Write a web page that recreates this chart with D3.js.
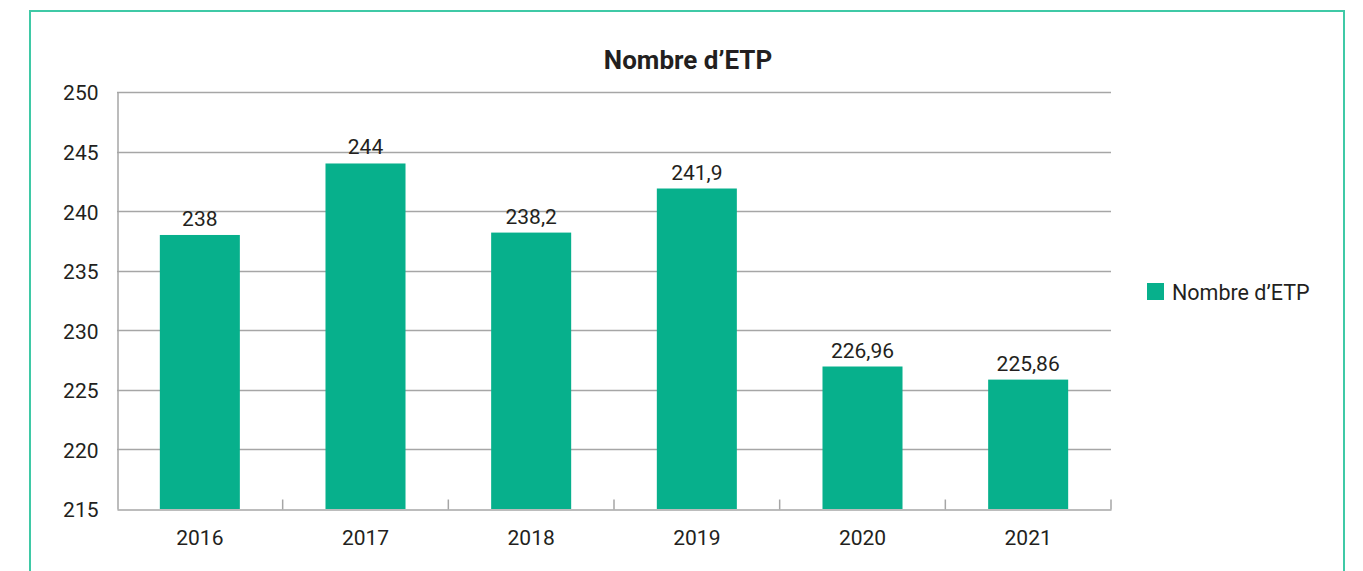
<!DOCTYPE html>
<meta charset="utf-8">
<style>
body { margin: 0; background: #fff; }
svg text { font-family: "Liberation Sans Narrow", "Roboto", sans-serif; fill: #231f20; }
.title { font-weight: bold; font-size: 26px; }
.tick text { font-size: 21px; }
.label { font-size: 21px; }
.legend text { font-size: 21.5px; }
</style>
<svg width="1363" height="571"></svg>
<script src="https://cdnjs.cloudflare.com/ajax/libs/d3/7.8.5/d3.min.js"></script>
<script>
var years = ["2016", "2017", "2018", "2019", "2020", "2021"];
var etp = [238, 244, 238.2, 241.9, 226.96, 225.86];
var yTicks = [215, 220, 225, 230, 235, 240, 245, 250];
var seriesName = "Nombre d\u2019ETP";

var svg = d3.select("svg");
var margin = {left: 117, right: 1111, top: 92, bottom: 509};
var color = "#07b08c";

// outer frame
svg.append("path")
    .attr("d", "M30,575V11H1344V575")
    .attr("fill", "none")
    .attr("stroke", "#3fc9a6")
    .attr("stroke-width", 2);

var x = d3.scaleBand()
    .domain(years)
    .range([margin.left, margin.right])
    .paddingInner(0.517)
    .paddingOuter(0.2585);

var y = d3.scaleLinear()
    .domain([215, 250])
    .range([margin.bottom, margin.top]);

var fmt = function(v) { return String(v).replace(".", ","); };

// grid
svg.append("g")
  .selectAll("line")
  .data(yTicks.slice(1))
  .join("line")
    .attr("x1", margin.left)
    .attr("x2", margin.right)
    .attr("y1", function(d) { return Math.round(y(d)) + 0.5; })
    .attr("y2", function(d) { return Math.round(y(d)) + 0.5; })
    .attr("stroke", "#a6a6a6")
    .attr("stroke-width", 1.5);

// y axis
var yAxis = svg.append("g")
    .attr("transform", "translate(" + (margin.left + 0.5) + ",0)")
    .call(d3.axisLeft(y).tickValues(yTicks).tickSize(0).tickPadding(19).tickFormat(d3.format("d")));
yAxis.select(".domain").attr("stroke", "#a6a6a6").attr("stroke-width", 1.5);
yAxis.selectAll(".tick text").attr("dy", "0.38em");

// bars
svg.append("g")
  .selectAll("rect")
  .data(etp)
  .join("rect")
    .attr("x", function(d, i) { return x(years[i]); })
    .attr("width", x.bandwidth())
    .attr("y", function(d) { return y(d); })
    .attr("height", function(d) { return y(215) - y(d); })
    .attr("fill", color);

// value labels
svg.append("g")
  .selectAll("text")
  .data(etp)
  .join("text")
    .attr("class", "label")
    .attr("x", function(d, i) { return x(years[i]) + x.bandwidth() / 2; })
    .attr("y", function(d) { return y(d) - 9; })
    .attr("text-anchor", "middle")
    .text(fmt);

// x axis
var step = x.step();
var xAxis = svg.append("g")
    .attr("transform", "translate(0," + (margin.bottom + 0.5) + ")")
    .call(d3.axisBottom(x).tickSize(0).tickPadding(21));
xAxis.select(".domain").attr("stroke", "#a6a6a6").attr("stroke-width", 1.5);
xAxis.selectAll(".tick text").attr("dy", "0.71em");
xAxis.append("g")
  .selectAll("line")
  .data(d3.range(1, years.length + 1))
  .join("line")
    .attr("x1", function(i) { return margin.left + i * step; })
    .attr("x2", function(i) { return margin.left + i * step; })
    .attr("y1", 0)
    .attr("y2", -10)
    .attr("stroke", "#a6a6a6")
    .attr("stroke-width", 1.5);

// title
svg.append("text")
    .attr("class", "title")
    .attr("x", 688)
    .attr("y", 69)
    .attr("text-anchor", "middle")
    .text(seriesName);

// legend
var legend = svg.append("g").attr("class", "legend")
    .attr("transform", "translate(1147,283)");
legend.append("rect")
    .attr("width", 17)
    .attr("height", 17)
    .attr("fill", color);
legend.append("text")
    .attr("x", 25)
    .attr("y", 16.5)
    .text(seriesName);
</script>
